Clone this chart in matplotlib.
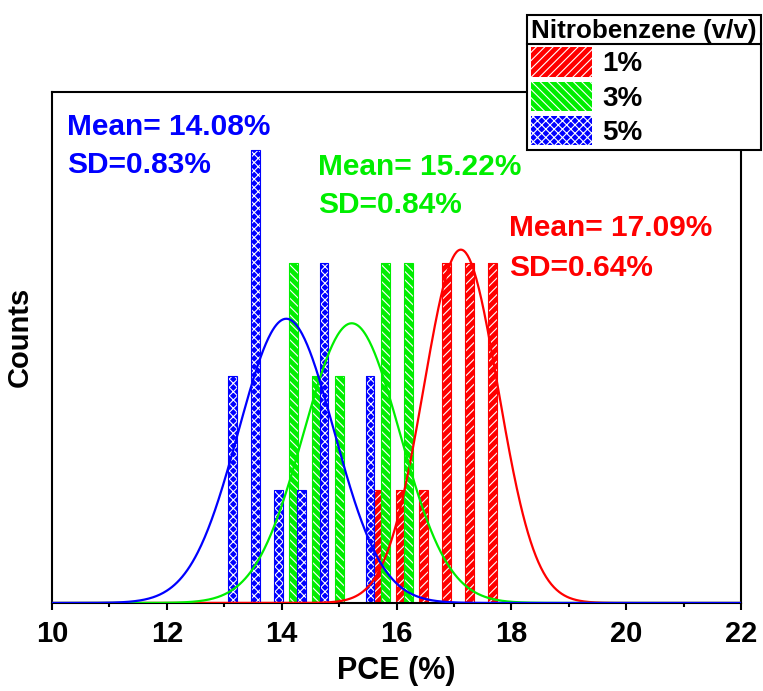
import numpy as np
import matplotlib
matplotlib.use("Agg")
import matplotlib.pyplot as plt
from matplotlib.patches import Patch
from matplotlib.lines import Line2D
from matplotlib.ticker import MultipleLocator

# histogram bins (PCE %) and counts for each nitrobenzene ratio
red_x = [15.67, 16.07, 16.47, 16.87, 17.27, 17.67]
red_n = [1, 1, 1, 3, 3, 3]
green_x = [14.21, 14.61, 15.01, 15.81, 16.21]
green_n = [3, 2, 2, 3, 3]
blue_x = [13.14, 13.54, 13.94, 14.34, 14.74, 15.54]
blue_n = [2, 4, 1, 1, 3, 2]

# gaussian fits: centre, sd, peak height (counts)
fit_mu = [17.12, 15.22, 14.08]
fit_sd = [0.65, 0.84, 0.83]
fit_peak = [3.12, 2.47, 2.51]

labels = ["1%", "3%", "5%"]
means = ["17.09", "15.22", "14.08"]
sds = ["0.64", "0.84", "0.83"]

RED = "#ff0000"
GREEN = "#00ee00"
BLUE = "#0000ff"
colors = [RED, GREEN, BLUE]
hatches = ["////", "\\\\\\\\", "xxxx"]

plt.rcParams["font.family"] = ["Liberation Sans", "DejaVu Sans"]
plt.rcParams["font.weight"] = "bold"
plt.rcParams["hatch.linewidth"] = 0.8

fig = plt.figure(figsize=(7.63, 6.91), dpi=100)
ax = fig.add_axes([0.0682, 0.1274, 0.903, 0.7399])

bw = 0.15
series = [(red_x, red_n), (green_x, green_n), (blue_x, blue_n)]
for (xs, ns), c, h in zip(series, colors, hatches):
    ax.bar(xs, ns, width=bw, color=c, edgecolor="white", linewidth=0, hatch=h, zorder=2)
    ax.bar(xs, ns, width=bw, fill=False, edgecolor=c, linewidth=0.8, zorder=2)

xx = np.linspace(10, 22, 800)
for mu, sd, pk, c in zip(fit_mu, fit_sd, fit_peak, colors):
    ax.plot(xx, pk * np.exp(-(xx - mu) ** 2 / (2 * sd ** 2)), color=c, lw=1.6, zorder=3)

# mean / SD annotations
txt_pos = [(17.96, 3.240, 2.887), (14.63, 3.779, 3.444), (10.26, 4.132, 3.797)]
for (tx, y1, y2), c, m, s in zip(txt_pos, colors, means, sds):
    ax.text(tx, y1, "Mean= %s%%" % m, color=c, fontsize=21.5, fontweight="bold", va="baseline")
    ax.text(tx, y2, "SD=%s%%" % s, color=c, fontsize=21.5, fontweight="bold", va="baseline")

ax.set_xlim(10, 22)
ax.set_ylim(0, 4.515)
ax.xaxis.set_major_locator(MultipleLocator(2))
ax.xaxis.set_minor_locator(MultipleLocator(1))
ax.set_yticks([])
ax.tick_params(axis="x", which="major", direction="out", length=5, width=1.5, labelsize=21, pad=7)
ax.tick_params(axis="x", which="minor", direction="out", length=3, width=1.5)
for lab in ax.get_xticklabels():
    lab.set_fontweight("bold")
for sp in ax.spines.values():
    sp.set_linewidth(1.5)

ax.set_xlabel("PCE (%)", fontsize=22, fontweight="bold", labelpad=6)
ax.set_ylabel("Counts", fontsize=21, fontweight="bold")
ax.yaxis.set_label_coords(-0.026, 0.52)

handles = [Patch(facecolor=c, edgecolor="white", hatch=h, linewidth=0) for c, h in zip(colors, hatches)]
leg = fig.legend(handles, labels, title="Nitrobenzene (v/v)",
                 loc="upper right", bbox_to_anchor=(761 / 763, 1 - 15 / 691),
                 prop=dict(family="Liberation Sans", weight="bold", size=20),
                 title_fontproperties=dict(family="Liberation Sans", weight="bold", size=18.7),
                 alignment="left", frameon=True, fancybox=False, framealpha=1,
                 edgecolor="black", borderpad=0.15, handlelength=2.2, handleheight=1.25,
                 labelspacing=0.15, handletextpad=0.35, borderaxespad=0)
leg.get_frame().set_linewidth(1.5)

# underline the legend title across the whole box
fig.canvas.draw()
fb = leg.get_frame().get_window_extent()
tb = leg.get_title().get_window_extent()
W, H = fig.bbox.width, fig.bbox.height
yl = (tb.y0 - 1) / H
fig.add_artist(Line2D([fb.x0 / W, fb.x1 / W], [yl, yl], color="black", lw=1.5, zorder=10))

fig.savefig("out.png", dpi=100)
